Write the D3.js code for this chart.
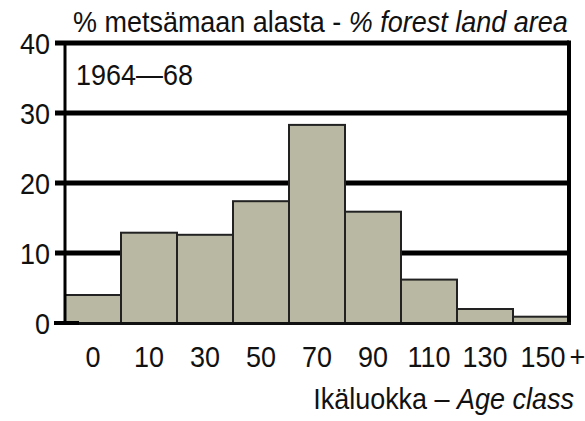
<!DOCTYPE html>
<html><head><meta charset="utf-8">
<script src="https://cdn.jsdelivr.net/npm/d3@7"></script>
<style>
html,body{margin:0;padding:0;background:#fff;}
text{font-family:"Liberation Sans",Arial,sans-serif;fill:#111;}
</style></head>
<body><svg id="c" width="585" height="421"></svg>
<script>
const categories = ["0","10","30","50","70","90","110","130","150+"];
const values = [4.0, 12.9, 12.6, 17.4, 28.3, 15.9, 6.2, 2.0, 0.9];
const yTicks = [0, 10, 20, 30, 40];
const titleFi = "% metsämaan alasta - ";
const titleEn = "% forest land area";
const periodLabel = "1964\u201468";
const xTitleFi = "Ikäluokka \u2013 ";
const xTitleEn = "Age class";

const FS = 29, SX = 0.93;
const svg = d3.select("#c");
const L = 65, R = 569, T = 43, B = 323;
const x = d3.scaleBand().domain(categories).range([L, R]).padding(0);
const y = d3.scaleLinear().domain([0, 40]).range([B, T]);

function txt(parent, px, py, anchor) {
  return parent.append("text")
    .attr("transform", `translate(${px},${py}) scale(${SX},1)`)
    .attr("text-anchor", anchor || "start")
    .attr("font-size", FS);
}

// gridlines
svg.append("g").selectAll("line").data(yTicks.filter(d => d > 0)).join("line")
  .attr("x1", 55).attr("x2", R).attr("y1", d => y(d)).attr("y2", d => y(d))
  .attr("stroke", "#000").attr("stroke-width", 5);

// bars
svg.append("g").selectAll("rect").data(values).join("rect")
  .attr("x", (d, i) => x(categories[i]))
  .attr("y", d => y(d))
  .attr("width", x.bandwidth())
  .attr("height", d => B - y(d))
  .attr("fill", "#b9b8a3").attr("stroke", "#222").attr("stroke-width", 2);

// axes frame
svg.append("line").attr("x1", L).attr("x2", L).attr("y1", T).attr("y2", B + 1)
  .attr("stroke", "#000").attr("stroke-width", 3);
svg.append("line").attr("x1", R).attr("x2", R).attr("y1", T - 2.5).attr("y2", B + 2)
  .attr("stroke", "#000").attr("stroke-width", 4);
svg.append("line").attr("x1", L).attr("x2", R + 2).attr("y1", B + 0.5).attr("y2", B + 0.5)
  .attr("stroke", "#111").attr("stroke-width", 3);
svg.append("line").attr("x1", 54).attr("x2", 79).attr("y1", y(0)).attr("y2", y(0))
  .attr("stroke", "#000").attr("stroke-width", 4);

// y labels
const yl = svg.append("g");
yTicks.forEach(d => txt(yl, 50, y(d) + 10.5, "end").text(d));

// x labels
const xl = svg.append("g");
categories.forEach(c => {
  const cx = x(c) + x.bandwidth() / 2;
  const base = c.replace("+", "");
  const t = txt(xl, cx + (c.endsWith("+") ? 2 : 0), 367, "middle").text(base);
  if (c.endsWith("+")) {
    const w = t.node().getComputedTextLength() * SX;
    txt(xl, cx + 2 + w / 2 + 4, 367, "start").text("+");
  }
});

// title
const tt = txt(svg, 73, 32, "start");
tt.append("tspan").text(titleFi);
tt.append("tspan").attr("font-style", "italic").text(titleEn);

// period label
txt(svg, 76, 85, "start").text(periodLabel);

// x title
const xt = txt(svg, 574, 409, "end");
xt.append("tspan").text(xTitleFi);
xt.append("tspan").attr("font-style", "italic").text(xTitleEn);
</script></body></html>
